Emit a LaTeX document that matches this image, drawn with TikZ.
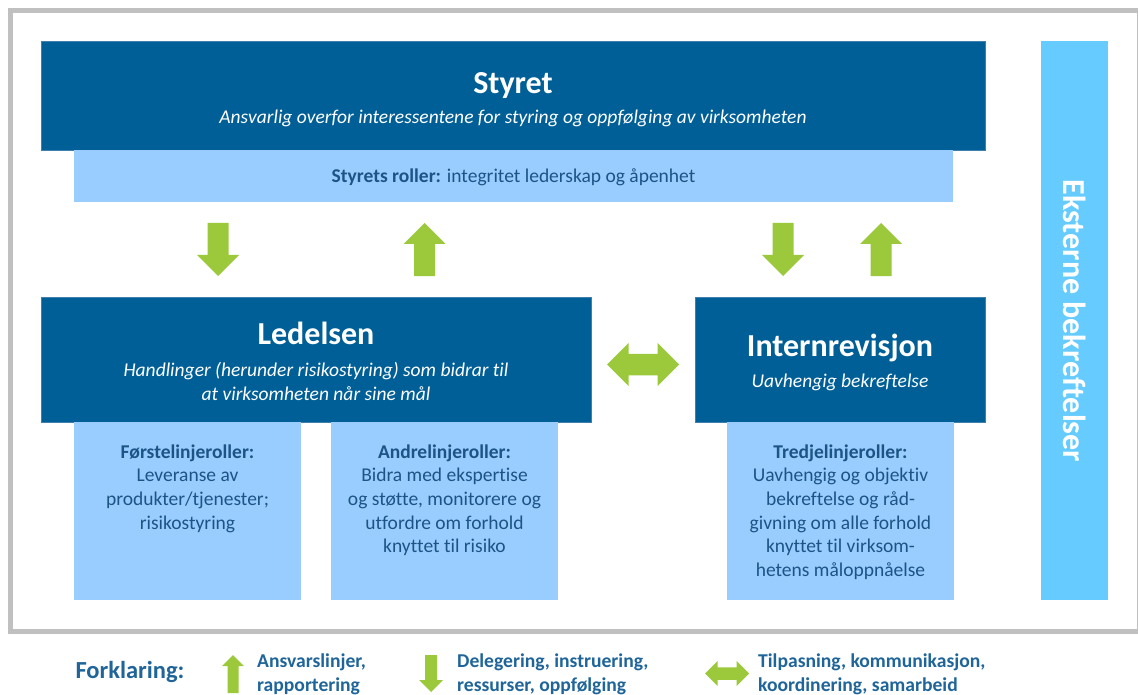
\documentclass[tikz,border=0pt]{standalone}
\usepackage{fontspec}
\setmainfont{Carlito}[Ligatures=NoCommon]
\usepackage{xcolor}
\definecolor{morkbla}{HTML}{005F96}
\definecolor{kantbla}{HTML}{3F7FAE}
\definecolor{lysbla}{HTML}{99CCFF}
\definecolor{ekstern}{HTML}{66CCFF}
\definecolor{pilgronn}{HTML}{9BC93B}
\definecolor{tekstbla}{HTML}{1C5585}
\definecolor{legendbla}{HTML}{1F6599}
\definecolor{ramme}{HTML}{C0C0C0}
% block arrow: centre, direction, length, head width
\newcommand{\pil}[4]{%
  \pgfmathsetmacro{\hl}{#3/2}
  \pgfmathsetmacro{\hw}{#4/2}
  \pgfmathsetmacro{\sw}{#4/4}
  \pgfmathsetmacro{\hb}{#3/2-#4/2}
  \fill[pilgronn, shift={#1}, rotate=#2] (-\hl,-\sw) -- (\hb,-\sw) -- (\hb,-\hw)
    -- (\hl,0) -- (\hb,\hw) -- (\hb,\sw) -- (-\hl,\sw) -- cycle;
}
% two-headed block arrow: centre, length, head height
\newcommand{\dobbelpil}[3]{%
  \pgfmathsetmacro{\hl}{#2/2}
  \pgfmathsetmacro{\hw}{#3/2}
  \pgfmathsetmacro{\sw}{#3/4}
  \pgfmathsetmacro{\hb}{#2/2-#3/2}
  \fill[pilgronn, shift={#1}] (-\hl,0) -- (-\hb,-\hw) -- (-\hb,-\sw) -- (\hb,-\sw)
    -- (\hb,-\hw) -- (\hl,0) -- (\hb,\hw) -- (\hb,\sw) -- (-\hb,\sw) -- (-\hb,\hw) -- cycle;
}

\begin{document}
\begin{tikzpicture}[x=1pt,y=-1pt,
  boks/.style={inner sep=0pt, outer sep=0pt, anchor=north west},
  mork/.style={boks, fill=morkbla, draw=kantbla, line width=0.6pt},
  lys/.style={boks, fill=lysbla},
  tittel/.style={text=white, font=\bfseries\fontsize{32}{38}\selectfont},
  kursiv/.style={text=white, font=\itshape\fontsize{19.5}{24}\selectfont, align=center},
  rolle/.style={text=tekstbla, font=\fontsize{19.5}{23.6}\selectfont, align=center},
  legtekst/.style={text=legendbla, font=\bfseries\fontsize{19.6}{24}\selectfont, align=left, anchor=west, inner sep=0pt}]

  \useasboundingbox[fill=white] (0,0) rectangle (1138,695);
  \draw[ramme, line width=5pt] (10.5,10.5) rectangle (1139.5,631.5);

  % boxes
  \node[mork, minimum width=944pt, minimum height=109pt] (styret) at (41,41) {};
  \node[lys, minimum width=879pt, minimum height=52pt] (roller) at (74,150) {};
  \node[boks, fill=ekstern, minimum width=67pt, minimum height=559pt] (ekstern) at (1041,41) {};
  \node[mork, minimum width=550pt, minimum height=125pt] (ledelsen) at (41,297) {};
  \node[mork, minimum width=290pt, minimum height=125pt] (revisjon) at (695,297) {};
  \node[lys, minimum width=227pt, minimum height=178pt] (forste) at (74,422) {};
  \node[lys, minimum width=227pt, minimum height=178pt] (andre) at (331,422) {};
  \node[lys, minimum width=227pt, minimum height=178pt] (tredje) at (727,422) {};

  % texts
  \node[tittel] (styret-navn) at (513,86) {Styret};
  \node[kursiv] (styret-tekst) at (513,118) {Ansvarlig overfor interessentene for styring og oppfølging av virksomheten};
  \node[rolle] (roller-tekst) at (513.5,177) {\textbf{Styrets roller:} integritet lederskap og åpenhet};
  \node[tittel] (ledelsen-navn) at (316,333) {Ledelsen};
  \node[kursiv] (ledelsen-tekst) at (316,381) {Handlinger (herunder risikostyring) som bidrar til\\at virksomheten når sine mål};
  \node[tittel] (revisjon-navn) at (840,348) {Internrevisjon};
  \node[kursiv] (revisjon-tekst) at (840,382) {Uavhengig bekreftelse};
  \node[tittel, rotate=-90] (ekstern-tekst) at (1074.5,321) {Eksterne bekreftelser};

  \node[rolle, anchor=north] (forste-tekst) at (187.5,441) {\textbf{Førstelinjeroller:}\\Leveranse av\\produkter/tjenester;\\risikostyring};
  \node[rolle, anchor=north] (andre-tekst) at (444.5,441) {\textbf{Andrelinjeroller:}\\Bidra med ekspertise\\og støtte, monitorere og\\utfordre om forhold\\knyttet til risiko};
  \node[rolle, anchor=north] (tredje-tekst) at (840.5,441) {\textbf{Tredjelinjeroller:}\\Uavhengig og objektiv\\bekreftelse og råd-\\givning om alle forhold\\knyttet til virksom-\\hetens måloppnåelse};

  % arrows between the levels
  \pil{(218,249.5)}{-90}{53}{42}
  \pil{(424.5,249.5)}{90}{53}{42}
  \pil{(783,249.5)}{-90}{53}{42}
  \pil{(881,249.5)}{90}{53}{42}
  \dobbelpil{(643,364.5)}{72}{43}

  % legend
  \node[text=legendbla, font=\bfseries\fontsize{24.5}{30}\selectfont] (forklaring) at (130,672) {Forklaring:};
  \pil{(233,674)}{90}{38}{22}
  \node[legtekst] (opp-tekst) at (257,674) {Ansvarslinjer,\\rapportering};
  \pil{(431,673.5)}{-90}{37}{24}
  \node[legtekst] (ned-tekst) at (457,674) {Delegering, instruering,\\ressurser, oppfølging};
  \dobbelpil{(727,673.5)}{44}{25}
  \node[legtekst] (begge-tekst) at (758,674) {Tilpasning, kommunikasjon,\\koordinering, samarbeid};

\end{tikzpicture}
\end{document}
